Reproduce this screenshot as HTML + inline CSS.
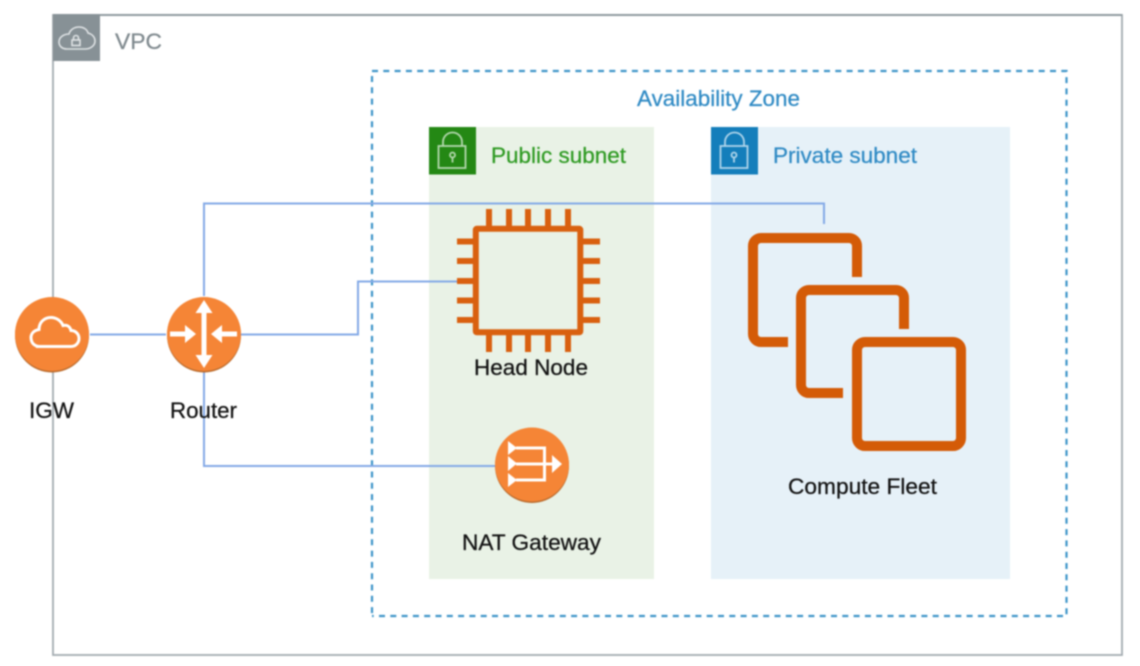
<!DOCTYPE html>
<html><head><meta charset="utf-8"><style>
html,body{margin:0;padding:0;background:#fff}
svg{display:block;filter:blur(.7px)}
text{font-family:"Liberation Sans",sans-serif;font-size:22px;stroke-width:.25px}
</style></head><body>
<svg width="1140" height="666" viewBox="0 0 1140 666" xmlns="http://www.w3.org/2000/svg">
<rect width="1140" height="666" fill="#fff"/>
<rect x="53" y="15" width="1069" height="640" fill="#fff" stroke="#a3abb0" stroke-width="1.800"/>
<path d="M53 15H1122" stroke="#8b969b" stroke-width="1.800" fill="none"/>
<rect x="53" y="14" width="47" height="47" fill="#879196"/>
<g fill="none" stroke="#dfe3e5" stroke-width="1.600">
<path d="M67 49h18c5 0 10-3 10-8 0-4-3-7-7-8-1-4-5-6-9-6-5 0-9 3-10 7-5 0-10 3-10 8 0 4 3 7 8 7z"/>
<rect x="72" y="40" width="8" height="5.500" fill="none"/>
<path d="M73.500 40v-2a2.500 2.500 0 0 1 5 0v2"/>
</g>
<text x="115" y="49" fill="#7f898e" stroke="#7f898e" textLength="47" lengthAdjust="spacingAndGlyphs">VPC</text>

<g fill="none" stroke="#3d94c8" stroke-width="2.200" stroke-dasharray="6 5.300">
<path d="M372 71H1066.500V616H372"/>
<path d="M372 76V616"/>
</g>
<text x="637" y="106" fill="#2f8ac4" stroke="#2f8ac4" textLength="163" lengthAdjust="spacingAndGlyphs">Availability Zone</text>

<rect x="429" y="127" width="225" height="452" fill="#e9f2e6"/>
<rect x="429" y="127" width="47" height="47.500" fill="#248814"/>
<g fill="none" stroke="#b4d8ae" stroke-width="1.800">
<rect x="438.500" y="146" width="27" height="22"/>
<path d="M443 146v-4a9.500 9.500 0 0 1 19 0v4"/>
<circle cx="452.500" cy="155" r="2.500"/><path d="M452.500 157.500v5"/>
</g>
<text x="491" y="163" fill="#2e9a22" stroke="#2e9a22" textLength="135" lengthAdjust="spacingAndGlyphs">Public subnet</text>

<rect x="711" y="127" width="299" height="452" fill="#e6f1f8"/>
<rect x="711" y="127" width="47" height="47.500" fill="#147ebb"/>
<g fill="none" stroke="#aed4ea" stroke-width="1.800">
<rect x="720.500" y="146" width="27" height="22"/>
<path d="M725 146v-4a9.500 9.500 0 0 1 19 0v4"/>
<circle cx="734" cy="155" r="2.500"/><path d="M734 157.500v5"/>
</g>
<text x="773" y="163" fill="#2f8ac4" stroke="#2f8ac4" textLength="144" lengthAdjust="spacingAndGlyphs">Private subnet</text>

<g fill="none" stroke="#83a9e6" stroke-width="2">
<path d="M90 334.500H166"/>
<path d="M204 296V203.500H824V224"/>
<path d="M240 334.500H358V281.500H458"/>
<path d="M204 372V466H496"/>
</g>

<!-- Head node chip -->
<g fill="none" stroke="#d9600f" stroke-width="6">
<rect x="475.800" y="228.800" width="104.500" height="103.500" rx="1"/>
<path d="M489 209v17M509 209v17M528 209v17M548 209v17M568 209v17"/>
<path d="M489 335v17M509 335v17M528 335v17M548 335v17M568 335v17"/>
<path d="M457 241.500h16M457 261h16M457 281h16M457 300.500h16M457 320h16"/>
<path d="M583 241.500h17M583 261h17M583 281h17M583 300.500h17M583 320h17"/>
</g>

<!-- Fleet -->
<g fill="none" stroke="#d45b07" stroke-width="10">
<path d="M857 277V246a8 8 0 0 0-8-8H761a8 8 0 0 0-8 8V334a8 8 0 0 0 8 8H788"/>
<path d="M904 329V298a8 8 0 0 0-8-8H809a8 8 0 0 0-8 8V385a8 8 0 0 0 8 8H843"/>
<rect x="857" y="342" width="104" height="104" rx="8"/>
</g>

<!-- IGW -->
<circle cx="52" cy="335.500" r="37" fill="#b96a2c"/>
<circle cx="52" cy="334" r="37" fill="#f58536"/>
<path d="M36 346.500h35c5 0 8-4 8-8 0-5-4-8-8-8-1-4-4-6-8-5-2-5-7-8-12-8-7 0-12 5-12 12-5 1-8 4-8 8 0 5 3 9 9 9z" fill="none" stroke="#fff" stroke-width="3"/>
<!-- Router -->
<circle cx="204" cy="335.500" r="37" fill="#b96a2c"/>
<circle cx="204" cy="334" r="37" fill="#f58536"/>
<g fill="#fff">
<rect x="201.500" y="310" width="5" height="48"/>
<path d="M204 300l-8.500 13h17zM204 368l-8.500-13h17z"/>
<rect x="170" y="331.500" width="18" height="5"/><path d="M196 334l-11-9v18z"/>
<rect x="220" y="331.500" width="17" height="5"/><path d="M211 334l11-9v18z"/>
</g>
<!-- NAT -->
<circle cx="532" cy="466" r="37" fill="#b96a2c"/>
<circle cx="532" cy="464.500" r="37" fill="#f58536"/>
<g fill="#fff">
<path d="M508 441l9 7-9 7zM508 456l9 7.500-9 7.500zM508 473l9 7-9 7z"/>
<path d="M562 464l-10-9v18z"/>
</g>
<g fill="none" stroke="#fff" stroke-width="3">
<path d="M516 448H544.500V480H516M516 464H554"/>
</g>

<g fill="#111" stroke="#111">
<text x="29" y="418" textLength="45" lengthAdjust="spacingAndGlyphs">IGW</text>
<text x="170" y="418" textLength="67" lengthAdjust="spacingAndGlyphs">Router</text>
<text x="474" y="375" textLength="114" lengthAdjust="spacingAndGlyphs">Head Node</text>
<text x="462" y="550" textLength="139" lengthAdjust="spacingAndGlyphs">NAT Gateway</text>
<text x="788" y="494" textLength="149" lengthAdjust="spacingAndGlyphs">Compute Fleet</text>
</g>
</svg>
</body></html>
